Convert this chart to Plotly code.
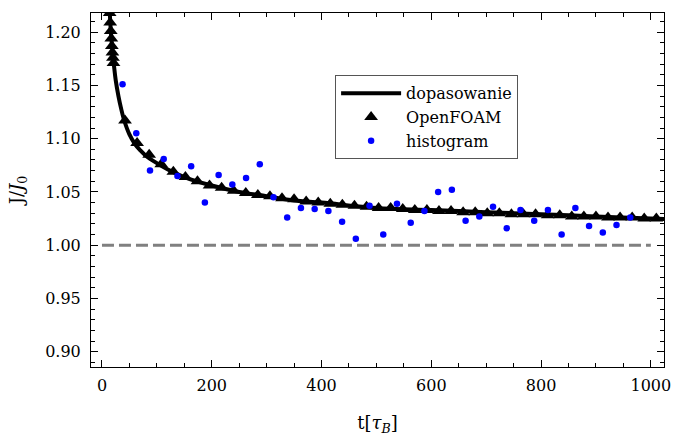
import plotly.graph_objects as go

# fitted curve "dopasowanie"
fit_t = [10, 12, 14, 16, 18, 20, 22, 25, 30, 35, 40, 50, 60, 70, 80, 100, 120, 150,
         200, 250, 300, 350, 400, 500, 600, 700, 800, 900, 1000, 1030]
fit_j = [1.270, 1.240, 1.220, 1.202, 1.189, 1.178, 1.168, 1.155, 1.140, 1.128, 1.118,
         1.104, 1.095, 1.089, 1.084, 1.077, 1.071, 1.064, 1.056, 1.050, 1.046, 1.042,
         1.040, 1.035, 1.033, 1.031, 1.029, 1.027, 1.025, 1.0245]

# OpenFOAM samples
of_t = [12, 13, 14, 15, 16, 17, 18, 19, 20, 21,
        42, 64, 86, 108, 130, 152, 174, 196, 218, 240, 262, 284, 306, 328, 350, 372,
        394, 416, 438, 460, 482, 504, 526, 548, 570, 592, 614, 636, 658, 680, 702,
        724, 746, 768, 790, 812, 834, 856, 878, 900, 922, 944, 966, 988, 1010]
of_j = [1.240, 1.228, 1.218, 1.209, 1.201, 1.194, 1.187, 1.181, 1.176, 1.171,
        1.117, 1.096, 1.085, 1.076, 1.069, 1.064, 1.060, 1.056, 1.054, 1.051, 1.049,
        1.047, 1.046, 1.044, 1.043, 1.041, 1.040, 1.039, 1.038, 1.037, 1.036, 1.035,
        1.035, 1.034, 1.033, 1.033, 1.032, 1.032, 1.031, 1.031, 1.030, 1.030, 1.029,
        1.029, 1.029, 1.028, 1.028, 1.027, 1.027, 1.027, 1.026, 1.026, 1.026, 1.025,
        1.025]

# histogram samples
hist_t = [37.5, 62.5, 87.5, 112.5, 137.5, 162.5, 187.5, 212.5, 237.5, 262.5, 287.5,
          312.5, 337.5, 362.5, 387.5, 412.5, 437.5, 462.5, 487.5, 512.5, 537.5, 562.5,
          587.5, 612.5, 637.5, 662.5, 687.5, 712.5, 737.5, 762.5, 787.5, 812.5, 837.5,
          862.5, 887.5, 912.5, 937.5, 962.5]
hist_j = [1.151, 1.105, 1.070, 1.081, 1.065, 1.074, 1.040, 1.066, 1.057, 1.063, 1.076,
          1.045, 1.026, 1.035, 1.034, 1.032, 1.022, 1.006, 1.037, 1.010, 1.039, 1.021,
          1.032, 1.050, 1.052, 1.023, 1.027, 1.036, 1.016, 1.033, 1.023, 1.033, 1.010,
          1.035, 1.018, 1.012, 1.019, 1.026]

ref_t = [0, 1000]
ref_j = [1.0, 1.0]

FONT = "DejaVu Serif"

fig = go.Figure()
fig.add_trace(go.Scatter(x=ref_t, y=ref_j, mode="lines", showlegend=False,
                         line=dict(color="#808080", width=3, dash="12px,5px")))
fig.add_trace(go.Scatter(x=fit_t, y=fit_j, mode="lines", name="dopasowanie",
                         line=dict(color="black", width=4, shape="spline")))
fig.add_trace(go.Scatter(x=of_t, y=of_j, mode="markers", name="OpenFOAM",
                         marker=dict(symbol="triangle-up", size=12, color="black")))
fig.add_trace(go.Scatter(x=hist_t, y=hist_j, mode="markers", name="histogram",
                         marker=dict(symbol="circle", size=6.5, color="#0000ff")))

axis_common = dict(showline=True, linecolor="black", linewidth=1, mirror="ticks",
                   ticks="inside", tickcolor="black", showgrid=False, zeroline=False,
                   automargin=False,
                   tickfont=dict(family=FONT, size=16, color="black"))

fig.update_xaxes(range=[-20, 1024], dtick=200, tick0=0, ticklen=7,
                 minor=dict(dtick=50, ticks="inside", ticklen=4, tickcolor="black"),
                 ticklabelstandoff=4,
                 title=dict(text="t[<i>τ</i><sub><i>B</i></sub>]",
                            font=dict(family=FONT, size=18, color="black"), standoff=22),
                 **axis_common)
fig.update_yaxes(range=[0.8856, 1.218], dtick=0.05, tick0=0.9, ticklen=7,
                 tickformat=".2f", ticklabelstandoff=6,
                 minor=dict(dtick=0.01, ticks="inside", ticklen=4, tickcolor="black"),
                 title=dict(text="J/<i>J</i><sub>0</sub>",
                            font=dict(family=FONT, size=18, color="black"), standoff=16),
                 **axis_common)

fig.update_layout(
    width=675, height=439,
    margin=dict(l=90.5, r=11, t=12.7, b=72, autoexpand=False),
    plot_bgcolor="white", paper_bgcolor="white",
    font=dict(family=FONT, color="black"),
    legend=dict(x=0.426, y=0.824, xanchor="left", yanchor="top",
                bgcolor="white", bordercolor="#555555", borderwidth=1,
                font=dict(family=FONT, size=16, color="black"),
                itemwidth=60, tracegroupgap=0),
)

fig.write_html("out.html")
